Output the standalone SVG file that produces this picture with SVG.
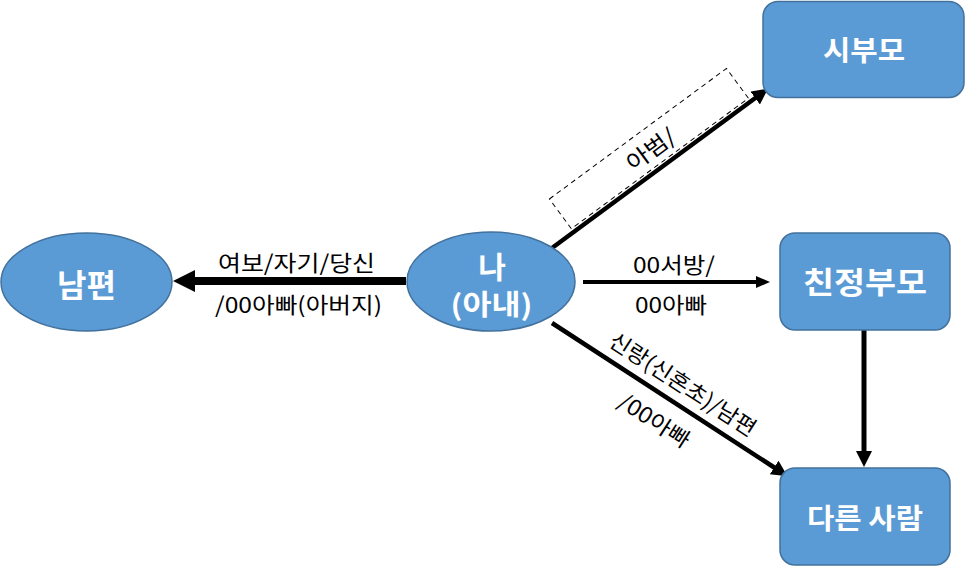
<svg xmlns="http://www.w3.org/2000/svg" width="966" height="567" viewBox="0 0 966 567">
<style>
.node{fill:#5B9BD5;stroke:#41719C;stroke-width:1.5}
.nt{font-family:"Noto Sans CJK KR","Liberation Sans",sans-serif;font-weight:bold;fill:#fff;text-anchor:middle}
.lb{font-family:"Noto Sans CJK KR","Liberation Sans",sans-serif;font-size:22px;fill:#000;text-anchor:middle}
.ln{stroke:#000;fill:none}
</style>
<defs>
<marker id="aBig" markerUnits="userSpaceOnUse" markerWidth="24" markerHeight="24" refX="1" refY="11" orient="auto"><path d="M0,0 L22,11 L0,22 z" fill="#000"/></marker>
<marker id="aMed" markerUnits="userSpaceOnUse" markerWidth="18" markerHeight="18" refX="1" refY="8" orient="auto"><path d="M0,0 L16,8 L0,16 z" fill="#000"/></marker>
<marker id="aSm" markerUnits="userSpaceOnUse" markerWidth="16" markerHeight="14" refX="1" refY="6" orient="auto"><path d="M0,0 L14,6 L0,12 z" fill="#000"/></marker>
</defs>
<g id="connectors">
<line class="ln" x1="406" y1="281" x2="194" y2="281" stroke-width="8" marker-end="url(#aBig)"/>
<line class="ln" x1="552" y1="248" x2="756" y2="97.5" stroke-width="4.5" marker-end="url(#aMed)"/>
<line class="ln" x1="583" y1="282" x2="757" y2="282" stroke-width="4" marker-end="url(#aSm)"/>
<line class="ln" x1="552" y1="323" x2="775" y2="468" stroke-width="4.5" marker-end="url(#aMed)"/>
<line class="ln" x1="864" y1="330" x2="864" y2="452" stroke-width="5" marker-end="url(#aMed)"/>
<text class="lb" x="296.5" y="271" textLength="157" lengthAdjust="spacingAndGlyphs">여보/자기/당신</text>
<text class="lb" x="298.5" y="313" textLength="167" lengthAdjust="spacingAndGlyphs">/00아빠(아버지)</text>
<text class="lb" x="674" y="273" textLength="82" lengthAdjust="spacingAndGlyphs">00서방/</text>
<text class="lb" x="671" y="313" textLength="72" lengthAdjust="spacingAndGlyphs">00아빠</text>
<g transform="translate(552,248) rotate(-36.4)">
<rect x="27" y="-41" width="220" height="37" fill="none" stroke="#000" stroke-width="1" stroke-dasharray="5,4"/>
<text class="lb" x="138" y="-12.5" textLength="55" lengthAdjust="spacingAndGlyphs">아범/</text>
</g>
<g transform="translate(672,401) rotate(33)">
<text class="lb" x="0" y="-12" textLength="170" lengthAdjust="spacingAndGlyphs">신랑(신혼초)/남편</text>
<text class="lb" x="-4" y="34" textLength="80" lengthAdjust="spacingAndGlyphs">/00아빠</text>
</g>
</g>
<g id="n-husband">
<ellipse class="node" cx="86.5" cy="282" rx="85.5" ry="49"/>
<text class="nt" x="86.5" y="297" font-size="32">남편</text>
</g>
<g id="n-me">
<ellipse class="node" cx="491" cy="281.5" rx="84" ry="49.5"/>
<text class="nt" font-size="28"><tspan x="492" y="278" font-size="30">나</tspan><tspan x="491.5" y="315" textLength="82" lengthAdjust="spacingAndGlyphs">(아내)</tspan></text>
</g>
<g id="n-inlaws">
<rect class="node" x="763" y="1.5" width="201" height="96" rx="15"/>
<text class="nt" x="864" y="61" font-size="28" textLength="82" lengthAdjust="spacingAndGlyphs">시부모</text>
</g>
<g id="n-parents">
<rect class="node" x="780" y="233" width="170" height="97" rx="15"/>
<text class="nt" x="865" y="293" font-size="30" textLength="124" lengthAdjust="spacingAndGlyphs">친정부모</text>
</g>
<g id="n-others">
<rect class="node" x="780" y="468" width="170" height="97" rx="15"/>
<text class="nt" x="865" y="529" font-size="28" textLength="116" lengthAdjust="spacingAndGlyphs">다른 사람</text>
</g>
</svg>
